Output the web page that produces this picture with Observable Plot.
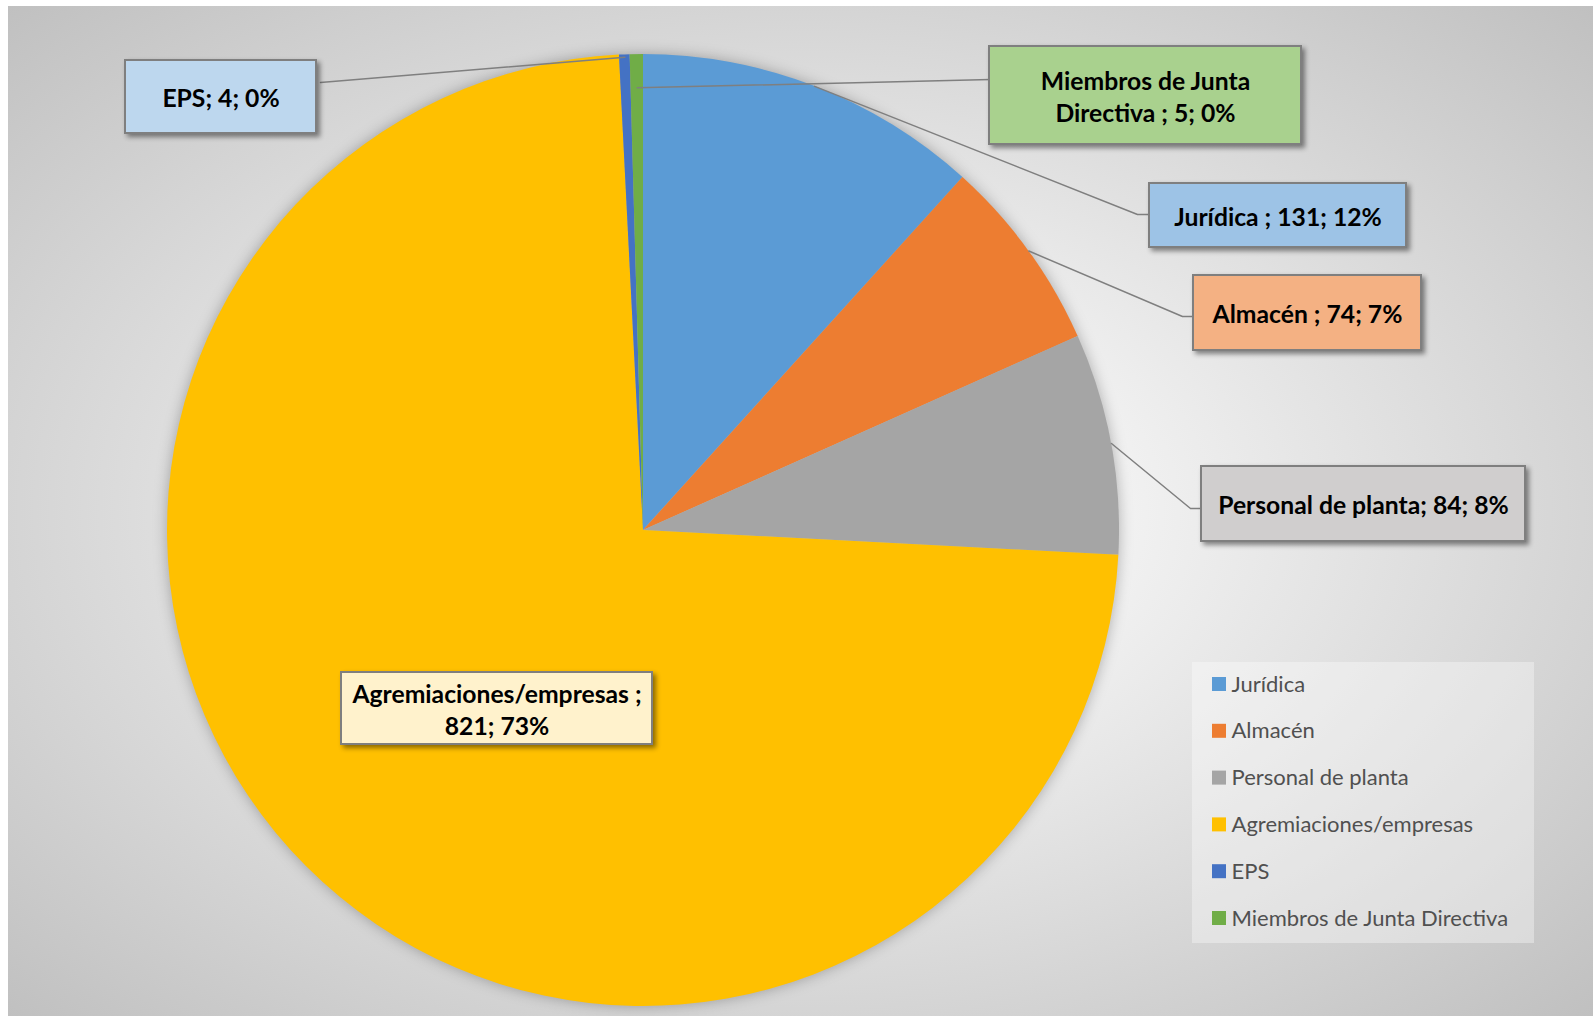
<!DOCTYPE html>
<html><head><meta charset="utf-8">
<script src="https://cdn.jsdelivr.net/npm/d3@7"></script>
<script src="https://cdn.jsdelivr.net/npm/@observablehq/plot@0.6"></script>
<style>
html,body{margin:0;padding:0;background:#fff;width:1593px;height:1016px;overflow:hidden;}
#bg{position:absolute;left:8px;top:6px;width:1585px;height:1010px;
  background:radial-gradient(ellipse farthest-corner at 50% 50%, #ffffff 0%, #f4f4f4 25%, #c0c0c0 100%);}
#chart{position:absolute;left:0;top:0;}
g[aria-description="label-box"] rect{filter:drop-shadow(3px 3px 2.5px rgba(0,0,0,0.45));}
g.pie{filter:drop-shadow(0 0 7px rgba(0,0,0,0.28));}
</style></head><body><div id="bg"></div><div id="chart"></div>
<script>
// ---- data ----
const categories = ["Jurídica ", "Almacén ", "Personal de planta", "Agremiaciones/empresas ", "EPS", "Miembros de Junta Directiva "];
const values = [131, 74, 84, 821, 4, 5];
const sliceColors = ["#5B9BD5", "#ED7D31", "#A5A5A5", "#FFC000", "#4472C4", "#70AD47"];
const labelFills = ["#9DC3E6", "#F4B183", "#D0CECE", "#FFF2CC", "#BDD7EE", "#A9D18E"];

// ---- layout (pixels) ----
const W = 1593, H = 1016;
const pie = {cx: 643, cy: 530, r: 476};
const labelLayout = [
  {box: [1149, 183, 1406, 247], from: 1.0, bend: [1137, 214], end: [1149, 214]},
  {box: [1193, 275, 1421, 350], from: 1.0, bend: [1182, 316], end: [1193, 316]},
  {box: [1201, 466, 1525, 541], from: 1.0, bend: [1190, 508], end: [1201, 508]},
  {box: [341, 672, 652, 744], breakBefore: "821"},
  {box: [125, 60, 316, 133], from: 0.995, end: [320, 82]},
  {box: [989, 46, 1301, 144], from: 0.93, end: [990, 79], breakBefore: "Directiva"}
];
const legendBox = [1192, 662, 1534, 943];
const legend = {swatchX: 1212, swatch: 14, textX: 1231, y0: 684, step: 46.8};
const labelFont = 24.7, legendFont = 22;

// ---- derived ----
const rows = categories.map((c, i) => ({cat: c, value: values[i]}));
const total = d3.sum(values);
const arcs = d3.pie().value(d => d.value).sort(null)(rows);

const labels = rows.map((d, i) => {
  const pct = Math.round(d.value / total * 100);
  let text = `${d.cat}; ${d.value}; ${pct}%`;
  const L = labelLayout[i];
  if (L.breakBefore) text = text.replace(" " + L.breakBefore, "\n" + L.breakBefore);
  return {...d, text, fill: labelFills[i], L, arc: arcs[i]};
});

const leaderPts = [];
labels.forEach(l => {
  if (l.L.from == null) return;
  const a = (l.arc.startAngle + l.arc.endAngle) / 2;
  leaderPts.push({cat: l.cat, x: pie.cx + pie.r * l.L.from * Math.sin(a), y: pie.cy - pie.r * l.L.from * Math.cos(a)});
  if (l.L.bend) leaderPts.push({cat: l.cat, x: l.L.bend[0], y: l.L.bend[1]});
  leaderPts.push({cat: l.cat, x: l.L.end[0], y: l.L.end[1]});
});

const pieMark = (index, scales) => {
  const g = d3.create("svg:g").attr("class", "pie");
  const arcGen = d3.arc().innerRadius(0).outerRadius(pie.r);
  g.selectAll("path").data(arcs).join("path")
    .attr("transform", `translate(${scales.x(pie.cx)},${scales.y(pie.cy)})`)
    .attr("d", arcGen)
    .attr("fill", d => scales.color(d.data.cat));
  return g.node();
};

const boxMarks = labels.map(l => Plot.rect([l], {
  x1: () => l.L.box[0], x2: () => l.L.box[2], y1: () => l.L.box[1], y2: () => l.L.box[3],
  fill: l.fill, stroke: "#7f7f7f", strokeWidth: 2, ariaDescription: "label-box"
}));

const chart = Plot.plot({
  width: W, height: H, margin: 0,
  x: {domain: [0, W], range: [0, W], axis: null},
  y: {domain: [0, H], range: [0, H], axis: null},
  color: {type: "ordinal", domain: categories, range: sliceColors},
  style: {fontFamily: "Lato, sans-serif", background: "transparent", overflow: "visible"},
  marks: [
    pieMark,
    Plot.line(leaderPts, {x: "x", y: "y", z: "cat", stroke: "#7f7f7f", strokeWidth: 1.5}),
    ...boxMarks,
    Plot.text(labels, {
      x: d => (d.L.box[0] + d.L.box[2]) / 2, y: d => (d.L.box[1] + d.L.box[3]) / 2,
      text: "text", fontSize: labelFont, fontWeight: "bold", fill: "#000", lineHeight: 1.3
    }),
    Plot.rect([legendBox], {x1: d => d[0], x2: d => d[2], y1: d => d[1], y2: d => d[3], fill: "#ffffff", fillOpacity: 0.35}),
    Plot.rect(rows, {
      x1: () => legend.swatchX, x2: () => legend.swatchX + legend.swatch,
      y1: (d, i) => legend.y0 + i * legend.step - legend.swatch / 2,
      y2: (d, i) => legend.y0 + i * legend.step + legend.swatch / 2,
      fill: "cat"
    }),
    Plot.text(rows, {
      x: () => legend.textX, y: (d, i) => legend.y0 + i * legend.step,
      text: d => d.cat.trim(), textAnchor: "start", fontSize: legendFont, fill: "#505050"
    })
  ]
});
document.getElementById("chart").appendChild(chart);
</script>
</body></html>
